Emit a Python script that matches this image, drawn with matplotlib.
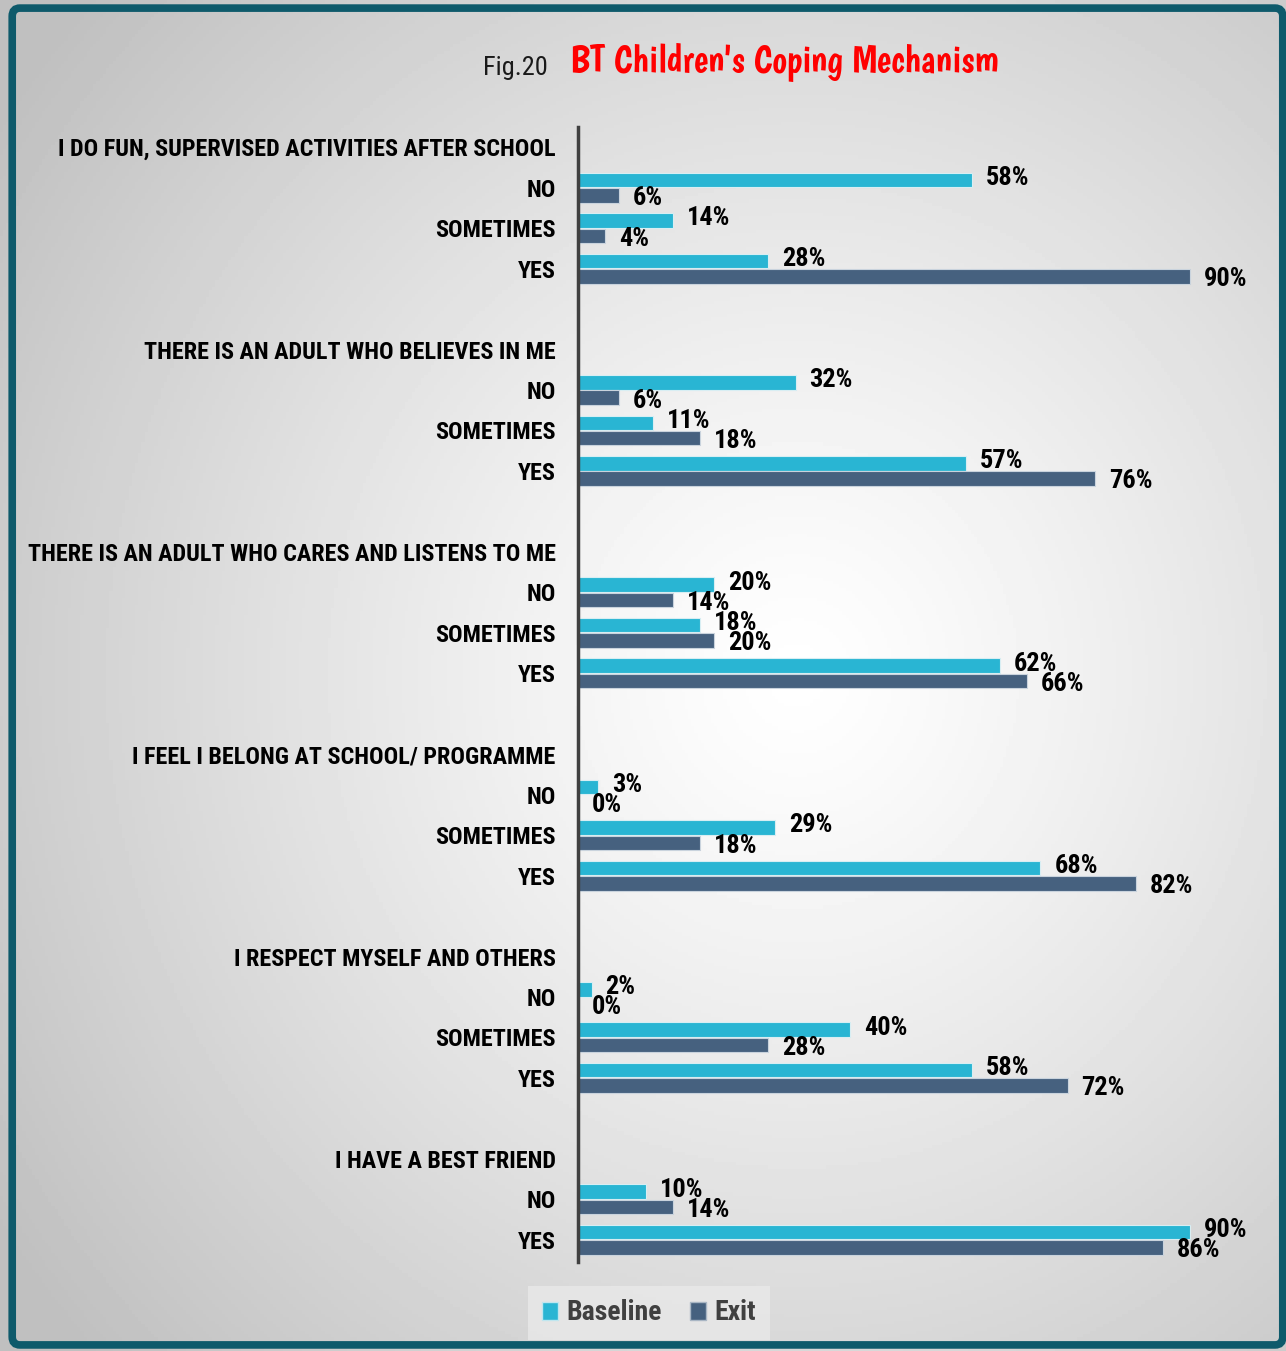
import matplotlib.pyplot as plt
import numpy as np
from matplotlib.patches import FancyBboxPatch

# categories per question block (header row, then the answers)
questions = ['I DO FUN, SUPERVISED ACTIVITIES AFTER SCHOOL',
             'THERE IS AN ADULT WHO BELIEVES IN ME',
             'THERE IS AN ADULT WHO CARES AND LISTENS TO ME',
             'I FEEL I BELONG AT SCHOOL/ PROGRAMME',
             'I RESPECT MYSELF AND OTHERS',
             'I HAVE A BEST FRIEND']
answers = [['NO', 'SOMETIMES', 'YES'],
           ['NO', 'SOMETIMES', 'YES'],
           ['NO', 'SOMETIMES', 'YES'],
           ['NO', 'SOMETIMES', 'YES'],
           ['NO', 'SOMETIMES', 'YES'],
           ['NO', 'YES']]
baseline = [[58, 14, 28],
            [32, 11, 57],
            [20, 18, 62],
            [3, 29, 68],
            [2, 40, 58],
            [10, 90]]
exit_ = [[6, 4, 90],
         [6, 18, 76],
         [14, 20, 66],
         [0, 18, 82],
         [0, 28, 72],
         [14, 86]]

c_base = '#29b5d3'
c_exit = '#46617f'
fnt = ['Roboto Condensed', 'DejaVu Sans']

fig = plt.figure(figsize=(12.86, 13.51), dpi=100)

# radial grey background
bg = fig.add_axes([0, 0, 1, 1], zorder=-10)
gx, gy = np.meshgrid(np.linspace(0, 1, 400), np.linspace(0, 1, 400))
r = np.sqrt((gx - 0.62) ** 2 + (gy - 0.5) ** 2)
r = np.clip(r / 0.75, 0, 1)
shade = 1.0 - 0.25 * r ** 1.2
bg.imshow(shade, cmap='gray', vmin=0, vmax=1, extent=[0, 1, 0, 1],
          origin='upper', aspect='auto')
bg.axis('off')

# teal frame
frame = FancyBboxPatch((0.0095, 0.0045), 0.988, 0.9895,
                       boxstyle='round,pad=0,rounding_size=0.006',
                       transform=fig.transFigure, fill=False,
                       edgecolor='#0e5a6b', linewidth=5.5, zorder=5)
fig.patches.append(frame)

ax = fig.add_axes([578 / 1286, 1 - 1262 / 1351, 680 / 1286, (1262 - 127) / 1351])
ax.patch.set_alpha(0)

ticks, labels = [], []
row = 0
for qi, q in enumerate(questions):
    ticks.append(row)
    labels.append(q)
    row += 1
    for ai, a in enumerate(answers[qi]):
        b = baseline[qi][ai]
        e = exit_[qi][ai]
        ax.barh(row - 0.19, b, height=0.36, color=c_base,
                edgecolor='#d8eef3', linewidth=0.8)
        ax.barh(row + 0.19, e, height=0.36, color=c_exit,
                edgecolor='#c9d3dd', linewidth=0.8)
        ax.annotate('%d%%' % b, (b, row - 0.24), xytext=(10, 0),
                    textcoords='offset points', va='center', ha='left',
                    fontsize=19, fontweight='bold', family=fnt)
        ax.annotate('%d%%' % e, (e, row + 0.26), xytext=(10, 0),
                    textcoords='offset points', va='center', ha='left',
                    fontsize=19, fontweight='bold', family=fnt)
        ticks.append(row)
        labels.append(a)
        row += 1
    row += 1

ax.set_xlim(0, 100)
ax.set_ylim(27.55, -0.5)
ax.set_yticks(ticks)
ax.set_yticklabels(labels, fontsize=17.4, fontweight='bold', family=fnt)
ax.tick_params(axis='y', length=0, pad=16)
ax.set_xticks([])
for s in ['top', 'right', 'bottom']:
    ax.spines[s].set_visible(False)
ax.spines['left'].set_color('#404040')
ax.spines['left'].set_linewidth(2.5)

# title
fig.text(548 / 1286, 1 - 68 / 1351, 'Fig.20', ha='right', va='center',
         fontsize=19, family=fnt, color='#1a1a1a')
fig.text(570 / 1286, 1 - 62 / 1351, "BT Children's Coping Mechanism",
         ha='left', va='center', fontsize=27.5,
         family=['Boogaloo', 'DejaVu Sans'], color='#ff0000')

# legend
h1 = plt.Rectangle((0, 0), 1, 1, color=c_base, ec='#bfe6ef')
h2 = plt.Rectangle((0, 0), 1, 1, color=c_exit, ec='#a9b6c4')
leg = fig.legend([h1, h2], ['Baseline', 'Exit'], loc='center',
                 bbox_to_anchor=(649 / 1286, 1 - 1313 / 1351), ncol=2,
                 frameon=True, fancybox=False, handlelength=0.6,
                 handleheight=0.6, handletextpad=0.3, columnspacing=1.0,
                 prop={'family': fnt, 'weight': 'bold', 'size': 20},
                 borderpad=0.5)
leg.get_frame().set_facecolor('#e9e9e9')
leg.get_frame().set_edgecolor('none')
for t in leg.get_texts():
    t.set_color('#404040')

fig.savefig('out.png', dpi=100)
